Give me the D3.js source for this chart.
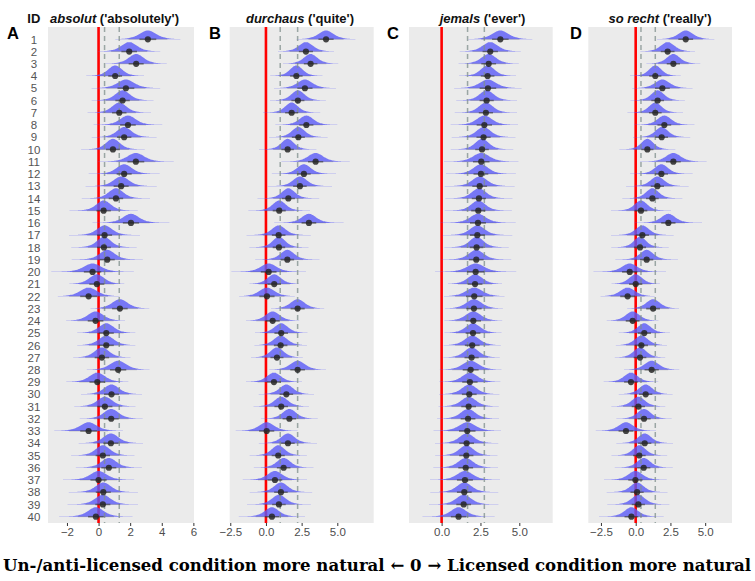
<!DOCTYPE html>
<html>
<head>
<meta charset="utf-8">
<script src="https://cdn.jsdelivr.net/npm/d3@7"></script>
<style>
  body { margin: 0; background: #fff; }
  svg { display: block; }
</style>
</head>
<body>
<script>
const ids = [1, 2, 3, 4, 5, 6, 7, 8, 9, 10, 11, 12, 13, 14, 15, 16, 17, 18, 19, 20,
  21, 22, 23, 24, 25, 26, 27, 28, 29, 30, 31, 32, 33, 34, 35, 36, 37, 38, 39, 40]

const panelLetters = ["A", "B", "C", "D"]
const panelWords = ["absolut", "durchaus", "jemals", "so recht"]
const panelGlosses = [" ('absolutely')", " ('quite')", " ('ever')", " ('really')"]

// posterior means per item
const meansA = [3.12, 1.94, 2.38, 1.05, 1.73, 1.52, 1.31, 1.86, 1.62, 0.91,
  2.36, 1.62, 1.43, 1.10, 0.32, 2.05, 0.38, 0.34, 0.55, -0.38,
  -0.11, -0.63, 1.35, -0.19, 0.49, 0.49, 0.21, 1.24, -0.08, 0.82,
  0.40, 0.80, -0.63, 0.78, 0.27, 0.65, 0.00, 0.30, 0.27, -0.17]
const meansB = [4.21, 2.80, 3.13, 2.13, 2.73, 2.24, 1.80, 2.83, 2.27, 1.52,
  3.48, 2.66, 2.38, 1.57, 0.93, 3.01, 0.89, 0.91, 1.50, 0.19,
  0.58, 0.07, 2.22, 0.47, 1.07, 1.03, 0.77, 2.22, 0.56, 1.43,
  1.07, 1.64, 0.05, 1.54, 0.86, 1.24, 0.63, 1.05, 0.91, 0.42]
const meansC = [3.78, 3.13, 3.03, 2.96, 2.98, 2.90, 2.85, 2.75, 2.70, 2.60,
  2.55, 2.53, 2.45, 2.40, 2.36, 2.34, 2.30, 2.25, 2.23, 2.19,
  2.15, 2.10, 2.08, 2.04, 2.02, 1.97, 1.93, 1.87, 1.82, 1.78,
  1.74, 1.70, 1.65, 1.61, 1.59, 1.55, 1.50, 1.46, 1.42, 1.09]
const meansD = [3.60, 2.30, 2.71, 1.41, 1.92, 1.58, 1.41, 2.06, 1.87, 0.84,
  2.71, 1.85, 1.56, 1.20, 0.38, 2.35, 0.48, 0.31, 0.79, -0.43,
  0.00, -0.58, 1.25, -0.22, 0.62, 0.41, 0.31, 1.15, -0.34, 0.72,
  0.19, 0.60, -0.70, 0.65, 0.26, 0.58, -0.02, 0.10, 0.19, -0.31]

// rough spread of each item's posterior
const rowSpread = [0.56, 0.52, 0.50, 0.46, 0.56, 0.48, 0.48, 0.52, 0.48, 0.46,
  0.56, 0.50, 0.50, 0.48, 0.48, 0.54, 0.50, 0.46, 0.50, 0.58,
  0.50, 0.56, 0.52, 0.52, 0.50, 0.50, 0.48, 0.54, 0.52, 0.50,
  0.50, 0.50, 0.56, 0.50, 0.48, 0.50, 0.54, 0.50, 0.50, 0.52]

const refLinesA = [0.38, 1.31]
const refLinesB = [1.00, 2.22]
const refLinesC = [1.67, 2.75]
const refLinesD = [0.38, 1.41]

const ticksA = [-2, 0, 2, 4, 6]
const ticksB = [-2.5, 0, 2.5, 5]
const ticksC = [0, 2.5, 5]
const ticksD = [-2.5, 0, 2.5, 5]

const width = 755
const height = 581
const plotTop = 27
const plotBottom = 523

const panels = [
  { means: meansA, refs: refLinesA, ticks: ticksA, fmt: d3.format("d"), domain: [-3.2, 6.04], range: [48, 194], titleX: 114.5, letterX: 7 },
  { means: meansB, refs: refLinesB, ticks: ticksB, fmt: d3.format(".1f"), domain: [-2.54, 7.55], range: [229.7, 373.7], titleX: 300, letterX: 209 },
  { means: meansC, refs: refLinesC, ticks: ticksC, fmt: d3.format(".1f"), domain: [-2.1, 7.15], range: [409, 552.7], titleX: 482.5, letterX: 387 },
  { means: meansD, refs: refLinesD, ticks: ticksD, fmt: d3.format(".1f"), domain: [-3.41, 6.93], range: [588.3, 732], titleX: 660, letterX: 570 }
]

const svg = d3.select('body')
  .append('svg')
  .attr('width', width)
  .attr('height', height)
  .style('font-family', 'Liberation Sans, Arial, sans-serif')

const y = d3.scalePoint()
  .domain(ids)
  .range([39.3, 516.7])

// row labels
svg.append('text')
  .attr('x', 27.3)
  .attr('y', 22.5)
  .attr('font-size', 13)
  .attr('font-weight', 'bold')
  .attr('fill', '#111')
  .text('ID')

svg.append('g')
  .selectAll('text')
  .data(ids)
  .enter()
  .append('text')
  .attr('x', 34)
  .attr('y', d => y(d) + 4.2)
  .attr('text-anchor', 'middle')
  .attr('font-size', 11.5)
  .attr('fill', '#555')
  .text(d => d)

// t-like shape for the slabs
const shape = z => Math.pow(1 + z * z / 5, -3)

panels.forEach((p, pi) => {
  const x = d3.scaleLinear().domain(p.domain).range(p.range)
  const g = svg.append('g')

  g.append('clipPath')
    .attr('id', 'clip' + pi)
    .append('rect')
    .attr('x', p.range[0])
    .attr('y', plotTop)
    .attr('width', p.range[1] - p.range[0])
    .attr('height', plotBottom - plotTop)

  g.append('rect')
    .attr('x', p.range[0])
    .attr('y', plotTop)
    .attr('width', p.range[1] - p.range[0])
    .attr('height', plotBottom - plotTop)
    .attr('fill', '#ebebeb')

  const inner = g.append('g').attr('clip-path', 'url(#clip' + pi + ')')

  inner.append('line')
    .attr('x1', x(0)).attr('x2', x(0))
    .attr('y1', plotTop).attr('y2', plotBottom)
    .attr('stroke', '#ff0000')
    .attr('stroke-width', 2.6)

  const rows = ids.map((id, i) => ({ id: id, m: p.means[i], s: rowSpread[i] }))

  const area = d3.area()
    .x(d => x(d[0]))
    .y0(d => d[2])
    .y1(d => d[2] - d[1])
    .curve(d3.curveBasis)

  inner.selectAll('path.slab')
    .data(rows)
    .enter()
    .append('path')
    .attr('class', 'slab')
    .attr('fill', '#5a5af7')
    .attr('fill-opacity', 0.8)
    .attr('d', d => {
      const h = Math.min(11, 4.9 / d.s)
      const base = y(d.id)
      const pts = d3.range(-4.5, 4.51, 0.1).map(z => [d.m + z * d.s, h * shape(z), base])
      return area(pts)
    })

  // dashed reference lines show through the slabs
  inner.selectAll('line.ref')
    .data(p.refs)
    .enter()
    .append('line')
    .attr('class', 'ref')
    .attr('x1', d => x(d)).attr('x2', d => x(d))
    .attr('y1', plotTop).attr('y2', plotBottom)
    .attr('stroke', '#7f8f8c')
    .attr('stroke-opacity', 0.75)
    .attr('stroke-width', 1.5)
    .attr('stroke-dasharray', '5,4')

  // intervals
  inner.selectAll('line.wide')
    .data(rows)
    .enter()
    .append('line')
    .attr('x1', d => x(d.m - 2.2 * d.s)).attr('x2', d => x(d.m + 2.2 * d.s))
    .attr('y1', d => y(d.id)).attr('y2', d => y(d.id))
    .attr('stroke', '#333')
    .attr('stroke-opacity', 0.3)
    .attr('stroke-width', 0.7)

  inner.selectAll('line.narrow')
    .data(rows)
    .enter()
    .append('line')
    .attr('x1', d => x(d.m - 0.95 * d.s)).attr('x2', d => x(d.m + 0.95 * d.s))
    .attr('y1', d => y(d.id)).attr('y2', d => y(d.id))
    .attr('stroke', '#333')
    .attr('stroke-opacity', 0.6)
    .attr('stroke-width', 1.6)

  inner.selectAll('circle')
    .data(rows)
    .enter()
    .append('circle')
    .attr('cx', d => x(d.m))
    .attr('cy', d => y(d.id))
    .attr('r', 3.1)
    .attr('fill', '#262626')
    .attr('fill-opacity', 0.85)

  // x axis
  const axis = g.append('g')
    .attr('transform', 'translate(0,' + plotBottom + ')')
    .call(d3.axisBottom(x).tickValues(p.ticks).tickFormat(p.fmt).tickSize(3).tickPadding(2))
  axis.select('.domain').remove()
  axis.selectAll('line').attr('stroke', '#333')
  axis.selectAll('text')
    .attr('font-size', 11.5)
    .attr('fill', '#4d4d4d')
    .attr('font-family', 'Liberation Sans, Arial, sans-serif')

  // title
  const title = g.append('text')
    .attr('x', p.titleX)
    .attr('y', 22.5)
    .attr('text-anchor', 'middle')
    .attr('font-size', 13)
    .attr('font-weight', 'bold')
    .attr('fill', '#111')
  title.append('tspan').attr('font-style', 'italic').text(panelWords[pi])
  title.append('tspan').text(panelGlosses[pi])

  g.append('text')
    .attr('x', p.letterX)
    .attr('y', 39)
    .attr('font-size', 16.5)
    .attr('font-weight', 'bold')
    .attr('fill', '#000')
    .text(panelLetters[pi])
})

svg.append('text')
  .attr('x', 3)
  .attr('y', 570.5)
  .attr('font-family', 'DejaVu Serif, serif')
  .attr('font-weight', 'bold')
  .attr('font-stretch', 'condensed')
  .attr('font-size', 17)
  .attr('textLength', 748)
  .attr('lengthAdjust', 'spacingAndGlyphs')
  .attr('fill', '#000')
  .text('Un-/anti-licensed condition more natural \u2190 0 \u2192 Licensed condition more natural')
</script>
</body>
</html>
